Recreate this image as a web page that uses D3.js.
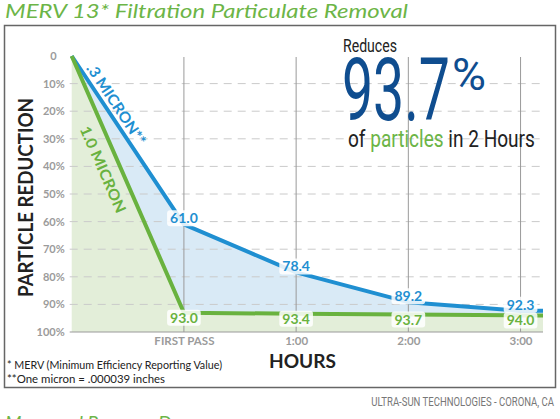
<!DOCTYPE html>
<html>
<head>
<meta charset="utf-8">
<script src="https://cdn.jsdelivr.net/npm/d3@7"></script>
<style>
  body { margin: 0; background: #fff; }
  svg { display: block; }
</style>
</head>
<body>
<div id="chart"></div>
<script>
// Data
const hours = ["", "FIRST PASS", "1:00", "2:00", "3:00"];
const micron03 = [0, 61.0, 78.4, 89.2, 92.3];
const micron10 = [0, 93.0, 93.4, 93.7, 94.0];
const yTicks = [0, 10, 20, 30, 40, 50, 60, 70, 80, 90, 100];
const seriesNames = [".3 MICRON**", "1.0 MICRON"];

const blue = "#1f8fd1", green = "#69b23f";

const svg = d3.select("#chart")
  .append("svg")
    .attr("width", 560)
    .attr("height", 419);

// Scales
const xMax = 4.2;
const x = d3.scaleLinear().domain([0, xMax]).range([71.7, 543]);
const y = d3.scaleLinear().domain([0, 100]).range([56, 332]);
const left = x(0) - 2;

// Frame
svg.append("rect")
  .attr("x", 4.5).attr("y", 25.5)
  .attr("width", 551).attr("height", 362)
  .attr("fill", "none")
  .attr("stroke", "#666")
  .attr("stroke-width", 1.5);

// Title
svg.append("text")
  .attr("x", 5).attr("y", 18)
  .attr("font-family", "Lato")
  .attr("font-style", "italic")
  .attr("font-size", 19)
  .attr("fill", "#6cb547")
  .attr("textLength", 403)
  .attr("lengthAdjust", "spacingAndGlyphs")
  .text("MERV 13* Filtration Particulate Removal");

// rows: one per point, both series, plus a flat run-out to the right edge
const rows = micron03.map((b, i) => ({i: i, b: b, g: micron10[i]}));
const last = rows[rows.length - 1];
const drawRows = rows.concat([{i: xMax, b: last.b, g: last.g}]);

// Fills
svg.append("path")
  .datum(drawRows)
  .attr("fill", "#e3eed9")
  .attr("d", d3.area().x(d => x(d.i)).y0(y(100)).y1(d => y(d.g)));

svg.append("path")
  .datum(drawRows)
  .attr("fill", "#d9eaf6")
  .attr("d", d3.area().x(d => x(d.i)).y0(d => y(d.g)).y1(d => y(d.b)));

// Gridlines
svg.append("g")
  .selectAll("line")
  .data(yTicks.filter(d => d > 0 && d < 100))
  .enter()
  .append("line")
    .attr("x1", left).attr("x2", 540)
    .attr("y1", d => y(d)).attr("y2", d => y(d))
    .attr("stroke", "#cacaca")
    .attr("stroke-dasharray", "8,6");

svg.append("g")
  .selectAll("line")
  .data([1, 2, 3, 4])
  .enter()
  .append("line")
    .attr("x1", d => x(d)).attr("x2", d => x(d))
    .attr("y1", y(0) + 1).attr("y2", y(100))
    .attr("stroke", "#9a9a9a");

// Bottom line
svg.append("line")
  .attr("x1", left).attr("x2", x(xMax))
  .attr("y1", y(100)).attr("y2", y(100))
  .attr("stroke", "#9a9a9a");

// Y axis
svg.append("g")
  .attr("transform", `translate(${left},0)`)
  .call(d3.axisLeft(y).tickValues(yTicks).tickSize(0).tickPadding(5)
    .tickFormat(d => d === 0 ? "0" : d + "%"))
  .call(g => g.select(".domain").remove())
  .selectAll("text")
    .attr("dx", d => d === 0 ? -8 : 0)
    .attr("font-family", "Lato")
    .attr("font-weight", "bold")
    .attr("font-size", 11)
    .attr("fill", "#9b9b9b");

// X axis
svg.append("g")
  .attr("transform", `translate(0,${y(100)})`)
  .call(d3.axisBottom(x).tickValues([1, 2, 3, 4]).tickSize(0).tickPadding(5)
    .tickFormat(i => hours[i]))
  .call(g => g.select(".domain").remove())
  .selectAll("text")
    .attr("font-family", "Lato")
    .attr("font-weight", "bold")
    .attr("font-size", 11.5)
    .attr("fill", "#9b9b9b");

// Axis titles
svg.append("text")
  .attr("transform", "translate(33,197.5) rotate(-90)")
  .attr("text-anchor", "middle")
  .attr("font-family", "Lato")
  .attr("font-weight", "bold")
  .attr("font-size", 20)
  .attr("fill", "#222")
  .attr("textLength", 199)
  .attr("lengthAdjust", "spacingAndGlyphs")
  .text("PARTICLE REDUCTION");

svg.append("text")
  .attr("x", 302.5).attr("y", 368)
  .attr("text-anchor", "middle")
  .attr("font-family", "Lato")
  .attr("font-weight", "bold")
  .attr("font-size", 18)
  .attr("fill", "#222")
  .attr("textLength", 67)
  .attr("lengthAdjust", "spacingAndGlyphs")
  .text("HOURS");

// Lines
const line = d3.line().x(d => x(d.i));
svg.append("path")
  .datum(drawRows)
  .attr("fill", "none")
  .attr("stroke", blue)
  .attr("stroke-width", 4)
  .attr("stroke-linejoin", "round")
  .attr("d", line.y(d => y(d.b)));

svg.append("path")
  .datum(drawRows)
  .attr("fill", "none")
  .attr("stroke", green)
  .attr("stroke-width", 4)
  .attr("stroke-linejoin", "round")
  .attr("d", line.y(d => y(d.g)));

// Series names along the first segment
function seriesLabel(name, vals, color, along, perp, len) {
  const x0 = x(0), y0 = y(vals[0]);
  const dx = x(1) - x0, dy = y(vals[1]) - y0;
  const seg = Math.hypot(dx, dy);
  const ux = dx / seg, uy = dy / seg;
  const px = x0 + ux * along + uy * perp;
  const py = y0 + uy * along - ux * perp;
  const ang = Math.atan2(dy, dx) * 180 / Math.PI;
  svg.append("text")
    .attr("transform", `translate(${px},${py}) rotate(${ang})`)
    .attr("font-family", "Lato")
    .attr("font-weight", "bold")
    .attr("font-size", 15)
    .attr("fill", color)
    .attr("textLength", len)
    .attr("lengthAdjust", "spacingAndGlyphs")
    .text(name);
}
seriesLabel(seriesNames[0], micron03, blue, 18, 5, 94);
seriesLabel(seriesNames[1], micron10, green, 70, -22, 93);

// Value labels with white boxes
function valueLabels(key, color, dy) {
  const g = svg.append("g");
  rows.filter(d => d.i > 0).forEach(d => {
    const lg = g.append("g")
      .attr("transform", `translate(${x(d.i)},${y(d[key]) + dy})`);
    const rect = lg.append("rect");
    const t = lg.append("text")
      .attr("text-anchor", "middle")
      .attr("dy", "0.36em")
      .attr("font-family", "Lato")
      .attr("font-weight", "bold")
      .attr("font-size", 14)
      .attr("fill", color)
      .text(d[key].toFixed(1));
    const bb = t.node().getBBox();
    rect.attr("x", bb.x - 3).attr("y", -8)
      .attr("width", bb.width + 6).attr("height", 16)
      .attr("rx", 3)
      .attr("fill", "#fff")
      .attr("fill-opacity", 0.85);
  });
}
valueLabels("b", blue, -6);
valueLabels("g", green, 5);

// Condensed text: squeeze horizontally to a given width
function narrow(px, py, width, size, fill, anchor) {
  const g = svg.append("g");
  const t = g.append("text")
    .attr("font-family", "Roboto")
    .attr("font-size", size)
    .attr("fill", fill)
    .attr("text-anchor", anchor || "start");
  t.fit = function() {
    const k = width / t.node().getComputedTextLength();
    g.attr("transform", `translate(${px},${py}) scale(${k},1)`);
    return t;
  };
  return t;
}

// Callout
narrow(343, 52, 54, 18, "#222").text("Reduces").fit();
narrow(342, 120, 108, 87, "#0f4d8f").text("93.7").fit();
narrow(452, 90, 34, 45, "#0f4d8f").text("%").fit();

const sub = narrow(348, 147, 187, 24, "#222");
sub.append("tspan").text("of ");
sub.append("tspan").attr("fill", "#6cb547").text("particles");
sub.append("tspan").text(" in 2 Hours");
sub.fit();

// Footnotes
svg.append("text")
  .attr("x", 7).attr("y", 369)
  .attr("font-family", "Lato")
  .attr("font-size", 11)
  .attr("fill", "#222")
  .attr("textLength", 215)
  .attr("lengthAdjust", "spacingAndGlyphs")
  .text("* MERV (Minimum Efficiency Reporting Value)");

svg.append("text")
  .attr("x", 7).attr("y", 382.5)
  .attr("font-family", "Lato")
  .attr("font-size", 11)
  .attr("fill", "#222")
  .attr("textLength", 158)
  .attr("lengthAdjust", "spacingAndGlyphs")
  .text("**One micron = .000039 inches");

narrow(554, 406, 183, 12, "#777", "end")
  .text("ULTRA-SUN TECHNOLOGIES - CORONA, CA").fit();

// Next section title, cut off by the bottom edge
svg.append("text")
  .attr("x", 5).attr("y", 430)
  .attr("font-family", "Lato")
  .attr("font-style", "italic")
  .attr("font-size", 19)
  .attr("fill", "#6cb547")
  .text("Measured Pressure Drop");
</script>
</body>
</html>
